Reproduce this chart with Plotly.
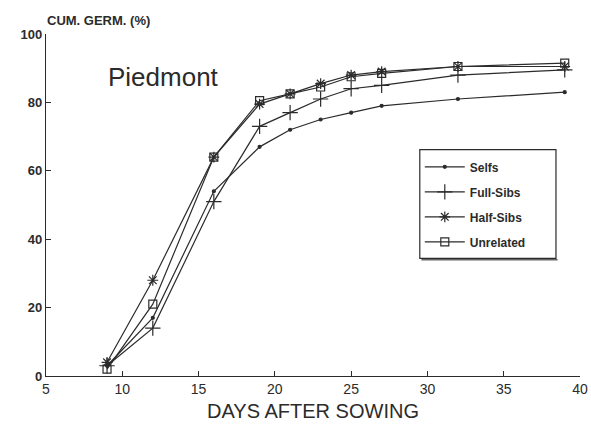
import plotly.graph_objects as go

days = [9, 12, 16, 19, 21, 23, 25, 27, 32, 39]
selfs = [3, 17, 54, 67, 72, 75, 77, 79, 81, 83]
full_sibs = [3, 14, 51, 73, 77, 81, 84, 85, 88, 89.5]
half_sibs = [4, 28, 64, 79.5, 82.5, 85.5, 88, 89, 90.5, 90.5]
unrelated = [2, 21, 64, 80.5, 82.5, 84.5, 87.5, 88.5, 90.5, 91.5]

series = [
    ("Selfs", selfs, "circle", 3),
    ("Full-Sibs", full_sibs, "cross-thin-open", 11),
    ("Half-Sibs", half_sibs, "asterisk-open", 9),
    ("Unrelated", unrelated, "square-open", 8),
]

x_ticks = [5, 10, 15, 20, 25, 30, 35, 40]
y_ticks = [0, 20, 40, 60, 80, 100]

ink = "#2b2b2b"
fig = go.Figure()
for name, vals, sym, size in series:
    fig.add_trace(go.Scatter(
        x=days, y=vals, name=name, mode="lines+markers", legendgroup=name,
        line=dict(color=ink, width=1.2),
        marker=dict(symbol=sym, size=size, color=ink,
                    line=dict(color=ink, width=1.2)),
    ))

# legend frame (paper coordinates)
lx0, lx1, ly0, ly1 = 0.700, 0.955, 0.344, 0.662

fig.update_layout(
    width=591, height=425,
    margin=dict(l=46, r=11, t=34, b=49),
    paper_bgcolor="white", plot_bgcolor="white",
    font=dict(family="Liberation Sans, Arial, sans-serif", color=ink),
    showlegend=True,
    legend=dict(
        x=lx0, y=ly1 - 0.008, xanchor="left", yanchor="top",
        borderwidth=0, bgcolor="rgba(0,0,0,0)",
        font=dict(size=12, family="Liberation Sans, Arial, sans-serif", weight="bold"),
        itemwidth=40, tracegroupgap=6,
    ),
    shapes=[
        dict(type="rect", xref="paper", yref="paper", x0=lx0, x1=lx1, y0=ly0, y1=ly1,
             line=dict(color=ink, width=1.2), fillcolor="white", layer="above"),
        dict(type="line", xref="paper", yref="paper", x0=lx0 + 0.003, x1=lx1 + 0.003,
             y0=ly0 - 0.004, y1=ly0 - 0.004, line=dict(color="#666", width=1.5),
             layer="above"),
    ],
    xaxis=dict(
        range=[5, 40], tickvals=x_ticks, ticktext=[str(v) for v in x_ticks],
        showgrid=False, zeroline=False, showline=True, linecolor=ink, linewidth=1.2,
        ticks="inside", ticklen=5, tickcolor=ink, automargin=False,
        tickfont=dict(size=14),
        title=dict(text="DAYS AFTER SOWING", font=dict(size=20), standoff=8),
    ),
    yaxis=dict(
        range=[0, 100], tickvals=y_ticks,
        showgrid=False, zeroline=False, showline=True, linecolor=ink, linewidth=1.2,
        ticks="inside", ticklen=5, tickcolor=ink, automargin=False,
        tickfont=dict(size=13, weight="bold"),
    ),
    annotations=[
        dict(text="CUM. GERM. (%)", xref="paper", yref="paper", x=0.0, y=1.0,
             xanchor="left", yanchor="bottom", showarrow=False, yshift=4, xshift=-1,
             font=dict(size=13, weight="bold")),
        dict(text="Piedmont", xref="paper", yref="paper", x=0.112, y=0.875,
             xanchor="left", yanchor="middle", showarrow=False,
             font=dict(size=26)),
    ],
)

fig.write_html("out.html", config={"displayModeBar": False},
               post_script="document.body.style.margin='0px';document.body.style.overflow='hidden';")
